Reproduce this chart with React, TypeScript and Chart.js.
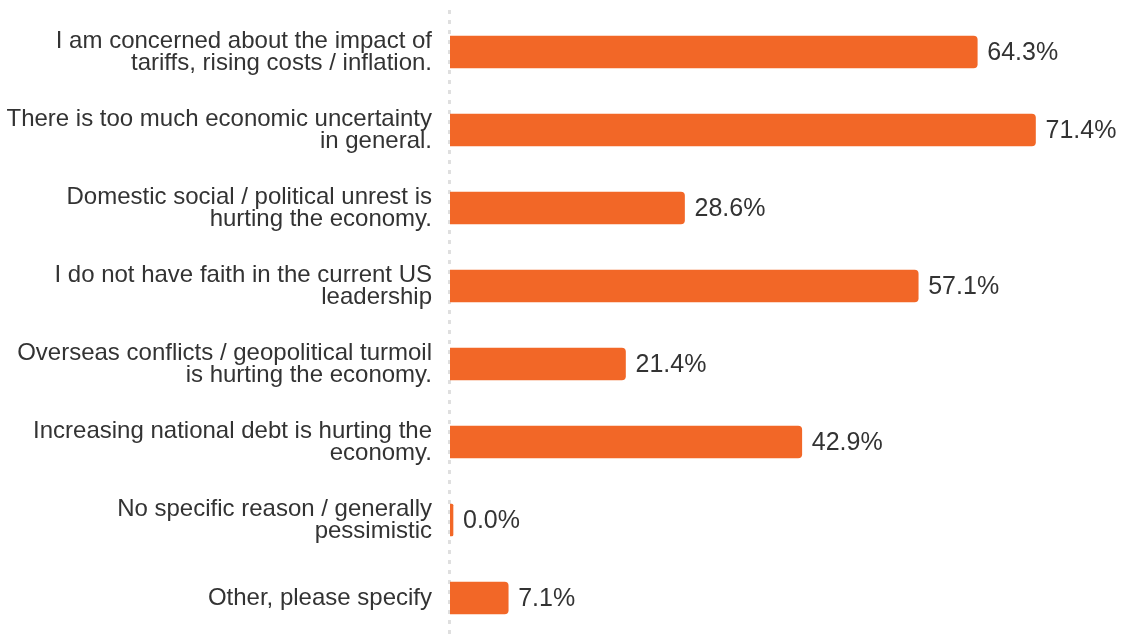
import React, { useEffect, useRef } from "react";
import { Chart, registerables } from "chart.js";

Chart.register(...registerables);

const categories: string[][] = [
  ["I am concerned about the impact of", "tariffs, rising costs / inflation."],
  ["There is too much economic uncertainty", "in general."],
  ["Domestic social / political unrest is", "hurting the economy."],
  ["I do not have faith in the current US", "leadership"],
  ["Overseas conflicts / geopolitical turmoil", "is hurting the economy."],
  ["Increasing national debt is hurting the", "economy."],
  ["No specific reason / generally", "pessimistic"],
  ["Other, please specify"],
];
const values: number[] = [64.3, 71.4, 28.6, 57.1, 21.4, 42.9, 0.0, 7.1];
const valueLabels: string[] = values.map((v) => v.toFixed(1) + "%");

const BAR_COLOR = "#F26727";
const TEXT_COLOR = "#333333";
const FONT = "'Liberation Sans', Arial, sans-serif";

const dottedAxisPlugin = {
  id: "dottedAxis",
  beforeDatasetsDraw(chart: any) {
    const ctx = chart.ctx;
    const x = chart.chartArea.left - 0.5;
    ctx.save();
    ctx.strokeStyle = "#dfdfdf";
    ctx.lineWidth = 3;
    ctx.setLineDash([4, 6]);
    ctx.beginPath();
    ctx.moveTo(x, 10);
    ctx.lineTo(x, chart.height);
    ctx.stroke();
    ctx.restore();
  },
};

const valueLabelPlugin = {
  id: "valueLabels",
  afterDatasetsDraw(chart: any) {
    const ctx = chart.ctx;
    const meta = chart.getDatasetMeta(0);
    ctx.save();
    ctx.font = `25px ${FONT}`;
    ctx.fillStyle = TEXT_COLOR;
    ctx.textAlign = "left";
    ctx.textBaseline = "middle";
    meta.data.forEach((bar: any, i: number) => {
      const end = Math.max(bar.x, bar.base + 3);
      ctx.fillText(valueLabels[i], end + 10, bar.y + 1);
    });
    ctx.restore();
  },
};

export default function App() {
  const ref = useRef<HTMLCanvasElement | null>(null);
  useEffect(() => {
    document.body.style.margin = "0";
    const chart = new Chart(ref.current as HTMLCanvasElement, {
      type: "bar",
      data: {
        labels: categories,
        datasets: [
          {
            data: values,
            backgroundColor: BAR_COLOR,
            borderRadius: { topRight: 4, bottomRight: 4, topLeft: 0, bottomLeft: 0 },
            borderSkipped: false,
            minBarLength: 3,
            barThickness: 32,
          },
        ],
      },
      options: {
        indexAxis: "y",
        animation: false,
        responsive: true,
        maintainAspectRatio: false,
        layout: { padding: { top: 13, bottom: 3, left: 0, right: 17 } },
        plugins: { legend: { display: false }, tooltip: { enabled: false } },
        scales: {
          x: {
            display: false,
            min: 0,
            max: 80,
          },
          y: {
            afterFit(scale: any) {
              scale.width = 450;
              scale.paddingTop = 0;
              scale.paddingBottom = 0;
            },
            grid: { display: false, drawTicks: false },
            border: { display: false },
            ticks: {
              color: TEXT_COLOR,
              padding: 18,
              font: { family: FONT, size: 24, lineHeight: 0.92 },
            },
          },
        },
      },
      plugins: [dottedAxisPlugin, valueLabelPlugin],
    });
    return () => chart.destroy();
  }, []);
  return (
    <div style={{ position: "fixed", left: 0, top: 0, width: 1123, height: 640 }}>
      <canvas ref={ref} />
    </div>
  );
}
